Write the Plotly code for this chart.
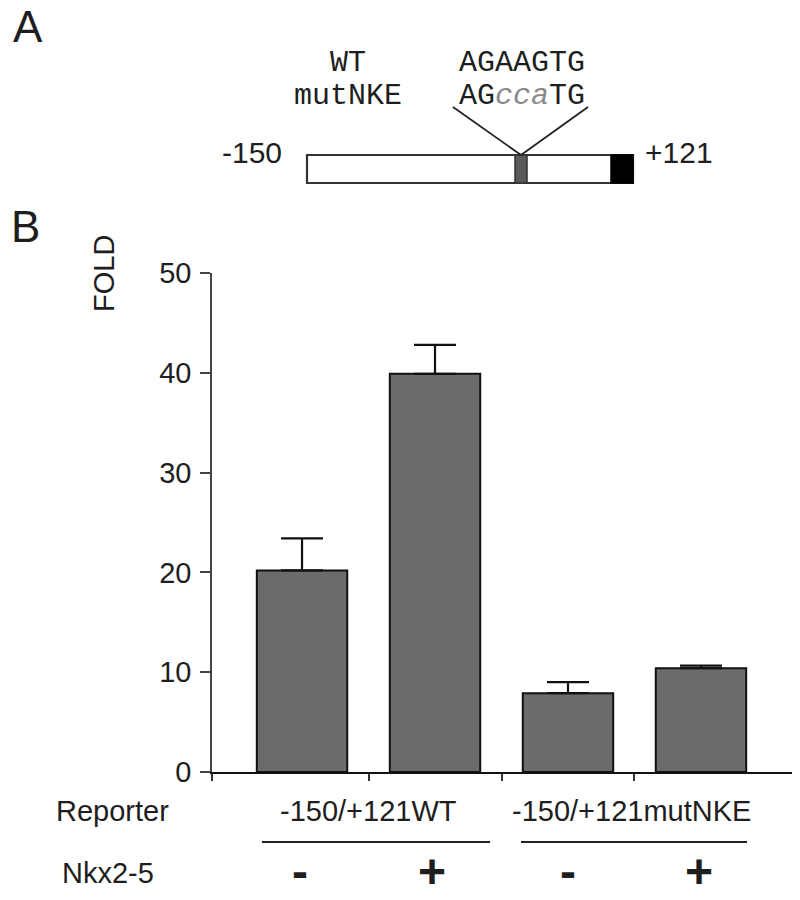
import plotly.graph_objects as go

# ---- data ----
conditions = ["-150/+121WT -", "-150/+121WT +", "-150/+121mutNKE -", "-150/+121mutNKE +"]
fold_values = [20.2, 39.9, 7.9, 10.4]
fold_err_up = [3.2, 2.9, 1.1, 0.25]
y_ticks = [0, 10, 20, 30, 40, 50]
reporters = ["-150/+121WT", "-150/+121mutNKE"]
nkx_signs = ["-", "+", "-", "+"]

# The page body has an 8px default margin, so the figure is made 8px smaller
# and all layout positions below are given in screenshot pixels.
OFF = 8
W, H = 800 - OFF, 900 - OFF
PL, PR, PT, PB = 212, 795, 273, 772          # plot area in screenshot pixels
L, R, T, B = PL - OFF, 800 - PR, PT - OFF, 900 - PB

def px(x):
    return (x - PL) / (PR - PL)

def py(y):
    return (PB - y) / (PB - PT)

SANS = "Liberation Sans, Arial, Helvetica, sans-serif"
MONO = "Courier New, Liberation Mono, monospace"
TXT = "#1e1e1e"

xpos = list(range(len(fold_values)))
x_lo, x_hi = -0.677, 3.707

fig = go.Figure()
fig.add_trace(go.Bar(
    x=xpos, y=fold_values, width=0.68,
    marker=dict(color="#6b6b6b", line=dict(color="#111111", width=2)),
    error_y=dict(type="data", array=fold_err_up, arrayminus=[0] * len(fold_values),
                 symmetric=False, color="#111111", thickness=2.2, width=21),
    showlegend=False, hoverinfo="y",
))

fig.update_layout(
    width=W, height=H,
    margin=dict(l=L, r=R, t=T, b=B, pad=0),
    paper_bgcolor="white", plot_bgcolor="white",
    xaxis=dict(range=[x_lo, x_hi], showgrid=False, zeroline=False,
               showline=True, linecolor="#111111", linewidth=2.2,
               tickmode="array", tickvals=[x_lo + 0.001, 0.5, 1.5, 2.5],
               ticktext=["", "", "", ""], ticks="outside", ticklen=7,
               tickwidth=1.5, tickcolor="#333333"),
    yaxis=dict(range=[0, 50], showgrid=False, zeroline=False,
               showline=True, linecolor="#444444", linewidth=1.6,
               tickmode="array", tickvals=y_ticks, ticks="outside",
               ticklen=10, tickwidth=1.5, tickcolor="#444444",
               tickfont=dict(family=SANS, size=29, color=TXT),
               ticklabelstandoff=3),
    font=dict(family=SANS, color=TXT),
)

ann = []

def text(x, y, s, size, family=SANS, xanchor="center", angle=0, color=TXT):
    ann.append(dict(x=px(x), y=py(y), xref="paper", yref="paper", text=s,
                    showarrow=False, xanchor=xanchor, yanchor="middle",
                    textangle=angle, font=dict(family=family, size=size, color=color)))

# Panel labels
text(28, 27, "A", 44)
text(25, 227, "B", 44)

# Y axis title
text(104, 274, "FOLD", 29, angle=-90)

# Panel A construct
text(348, 63, "WT", 30, MONO)
text(348, 96, "mutNKE", 30, MONO)
text(522, 63, "AGAAGTG", 30, MONO)
text(522, 96, "AG<i><span style='color:#8a8a8a'>cca</span></i>TG", 30, MONO)
text(252, 152, "-150", 30)
text(679, 152, "+121", 30)

shapes = []

def rect(x0, y0, x1, y1, fill, lc="#333333", lw=2):
    shapes.append(dict(type="rect", xref="paper", yref="paper",
                       x0=px(x0), x1=px(x1), y0=py(y0), y1=py(y1),
                       fillcolor=fill, line=dict(color=lc, width=lw), layer="above"))

def line(x0, y0, x1, y1, color="#222222", lw=1.8):
    shapes.append(dict(type="line", xref="paper", yref="paper",
                       x0=px(x0), x1=px(x1), y0=py(y0), y1=py(y1),
                       line=dict(color=color, width=lw), layer="above"))

rect(307, 155, 633, 183, "white", "#333333", 2.2)
rect(515, 155, 527, 183, "#5a5a5a", "#333333", 1.5)
rect(611, 155, 633, 183, "#000000", "#000000", 1.5)
line(453, 107, 521, 155)
line(588, 107, 521, 155)

# Bottom labels
text(112, 811, "Reporter", 29)
text(108, 873, "Nkx2-5", 29)
text(368, 811, reporters[0], 29)
text(631, 811, reporters[1], 29)
line(262, 842, 490, 842, "#222222", 2)
line(521, 842, 747, 842, "#222222", 2)
sign_x = [300, 432, 568, 699]
for sx, s in zip(sign_x, nkx_signs):
    text(sx, 871, "<b>%s</b>" % s, 48)

fig.update_layout(annotations=ann, shapes=shapes)
fig.write_html("out.html")
